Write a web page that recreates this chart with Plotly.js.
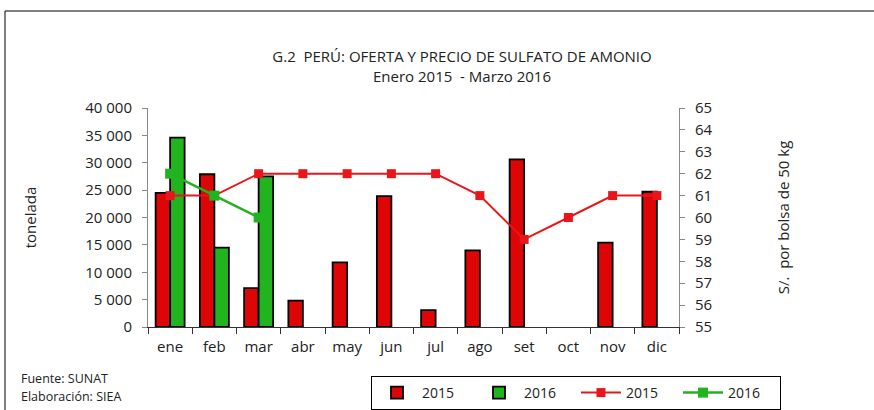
<!DOCTYPE html>
<html>
<head>
<meta charset="utf-8">
<script src="https://cdn.plot.ly/plotly-3.0.1.min.js"></script>
<style>html,body{margin:0;padding:0;background:#fff;}#chart{width:874px;height:410px;}</style>
</head>
<body>
<div id="chart"></div>
<script>
const months = ["ene","feb","mar","abr","may","jun","jul","ago","set","oct","nov","dic"];
const supply2015 = [24500, 27900, 7100, 4800, 11800, 23900, 3100, 14000, 30600, null, 15400, 24700];
const supply2016 = [34600, 14500, 27500, null, null, null, null, null, null, null, null, null];
const price2015 = [61, 61, 62, 62, 62, 62, 62, 61, 59, 60, 61, 61];
const price2016 = [62, 61, 60, null, null, null, null, null, null, null, null, null];
const leftTicks = [0, 5000, 10000, 15000, 20000, 25000, 30000, 35000, 40000];
const leftTickText = ["0", "5 000", "10 000", "15 000", "20 000", "25 000", "30 000", "35 000", "40 000"];
const rightTicks = [55, 56, 57, 58, 59, 60, 61, 62, 63, 64, 65];

const RED = "#DD0505", GREEN = "#22B41E", LINE_RED = "#E8161A";
const FONT = "Open Sans, Noto Sans, sans-serif";

const traces = [
  {type: "bar", name: "2015", x: months, y: supply2015, marker: {color: RED, line: {color: "#000", width: 1.8}}, yaxis: "y"},
  {type: "bar", name: "2016", x: months, y: supply2016, marker: {color: GREEN, line: {color: "#000", width: 1.8}}, yaxis: "y"},
  {type: "scatter", mode: "lines+markers", name: "2015", x: months, y: price2015, yaxis: "y2",
   line: {color: LINE_RED, width: 2}, marker: {symbol: "square", size: 9, color: LINE_RED}},
  {type: "scatter", mode: "lines+markers", name: "2016", x: months, y: price2016, yaxis: "y2",
   line: {color: GREEN, width: 2.5}, marker: {symbol: "square", size: 10, color: GREEN}}
];

const L = 148, R = 679, T = 108, B = 327, W = 874, H = 410;
const pw = R - L, ph = B - T;
const px = v => (v - L) / pw;
const py = v => (B - v) / ph;

const layout = {
  width: W, height: H,
  margin: {l: L, r: W - R, t: T, b: H - B, pad: 0, autoexpand: false},
  paper_bgcolor: "#fff", plot_bgcolor: "#fff",
  font: {family: FONT, size: 13, color: "#222"},
  barmode: "group", bargap: 0.345, bargroupgap: 0,
  showlegend: true,
  title: {
    text: "G.2  PERÚ: OFERTA Y PRECIO DE SULFATO DE AMONIO<br>Enero 2015  - Marzo 2016",
    font: {family: FONT, size: 15, color: "#222"},
    xref: "container", yref: "container", x: 462 / W, y: 1 - 62 / H, xanchor: "center", yanchor: "middle"
  },
  xaxis: {
    type: "category", range: [-0.5, 11.5], showgrid: false, zeroline: false,
    showline: true, linecolor: "#333", linewidth: 1,
    ticks: "outside", tickson: "boundaries", ticklen: 6, tickcolor: "#333",
    ticklabelstandoff: 6,
    tickfont: {family: FONT, size: 15, color: "#222"}, automargin: false
  },
  yaxis: {
    range: [0, 40000], tickvals: leftTicks, ticktext: leftTickText,
    showgrid: false, zeroline: false, showline: true, linecolor: "#888", linewidth: 1,
    ticks: "outside", ticklen: 5, tickcolor: "#888", ticklabelstandoff: 7,
    tickfont: {family: FONT, size: 15, color: "#222"},
    title: {text: "tonelada", standoff: 44, font: {family: FONT, size: 15, color: "#222"}},
    automargin: false
  },
  yaxis2: {
    range: [55, 65], tickvals: rightTicks, overlaying: "y", side: "right",
    showgrid: false, zeroline: false, showline: true, linecolor: "#888", linewidth: 1,
    ticks: "outside", ticklen: 5, tickcolor: "#888", ticklabelstandoff: 7,
    tickfont: {family: FONT, size: 15, color: "#222"},
    title: {text: "S/.  por bolsa de 50 kg", standoff: 66, font: {family: FONT, size: 15, color: "#222"}},
    automargin: false
  },
  legend: {
    orientation: "h", x: px(371), y: py(376), xanchor: "left", yanchor: "top",
    bordercolor: "#000", borderwidth: 1, bgcolor: "#fff",
    font: {family: FONT, size: 14, color: "#222"},
    entrywidth: 47, entrywidthmode: "pixels", traceorder: "normal",
    itemwidth: 40
  },
  annotations: [
    {text: "Fuente: SUNAT", xref: "paper", yref: "paper", x: px(19), y: py(378), xanchor: "left", yanchor: "middle",
     showarrow: false, font: {family: FONT, size: 12.5, color: "#222"}},
    {text: "Elaboración: SIEA", xref: "paper", yref: "paper", x: px(19), y: py(396), xanchor: "left", yanchor: "middle",
     showarrow: false, font: {family: FONT, size: 12.5, color: "#222"}}
  ],
  shapes: [
    {type: "line", xref: "paper", yref: "paper", x0: px(5), x1: px(5), y0: py(11), y1: py(412), line: {color: "#000", width: 1}},
    {type: "line", xref: "paper", yref: "paper", x0: px(5), x1: px(876), y0: py(11), y1: py(11), line: {color: "#000", width: 1}}
  ]
};

Plotly.newPlot("chart", traces, layout, {displayModeBar: false, staticPlot: true});
</script>
</body>
</html>
